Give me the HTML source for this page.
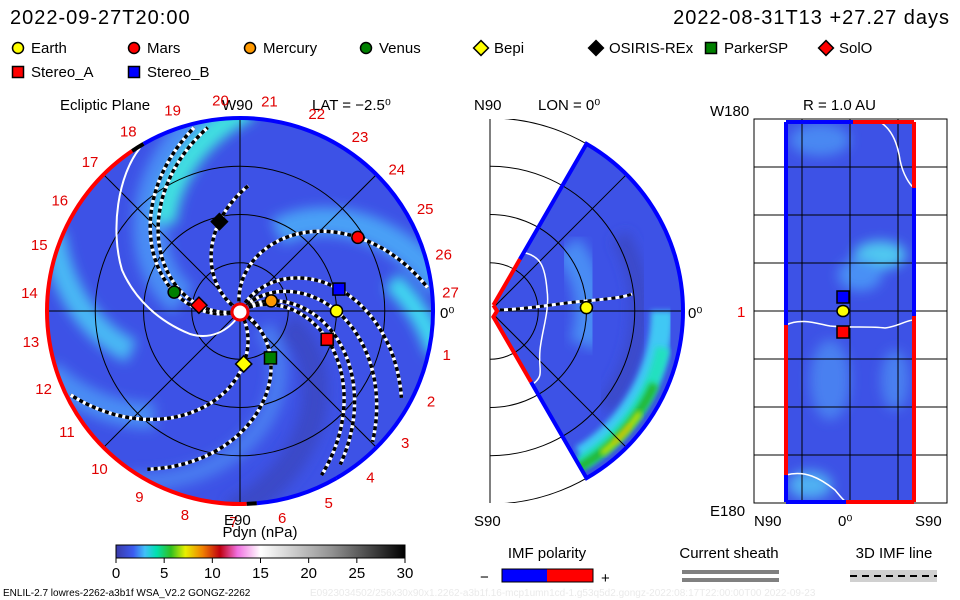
<!DOCTYPE html>
<html><head><meta charset="utf-8"><style>
html,body{margin:0;padding:0;background:#fff;}
svg{display:block;font-family:"Liberation Sans",sans-serif;}
</style></head><body>
<svg id="chart" width="960" height="600" viewBox="0 0 960 600">
<defs>
<linearGradient id="cbar" x1="0" x2="1" y1="0" y2="0">
<stop offset="0" stop-color="#3a3aa8"/><stop offset="0.06" stop-color="#3c5cf0"/>
<stop offset="0.1" stop-color="#40c0f8"/><stop offset="0.14" stop-color="#00e0b0"/>
<stop offset="0.19" stop-color="#30c020"/><stop offset="0.24" stop-color="#e8f000"/>
<stop offset="0.3" stop-color="#f08000"/><stop offset="0.36" stop-color="#c00010"/>
<stop offset="0.42" stop-color="#f070e0"/><stop offset="0.5" stop-color="#ffffff"/>
<stop offset="0.75" stop-color="#909090"/><stop offset="1" stop-color="#000000"/>
</linearGradient>
<clipPath id="clipL"><circle cx="240" cy="311" r="193"/></clipPath>
<clipPath id="clipM"><path id="wedgePath" d=""/></clipPath>
<clipPath id="clipR"><rect x="786" y="122" width="128" height="380"/></clipPath>
<clipPath id="boxM"><rect x="490" y="119" width="200" height="384"/></clipPath>
<filter id="blur"><feGaussianBlur stdDeviation="6"/></filter>
<filter id="blur2"><feGaussianBlur stdDeviation="3"/></filter>
</defs>

<text x="10" y="24" font-size="20" letter-spacing="1">2022-09-27T20:00</text>
<text x="950" y="24" font-size="20" letter-spacing="1" text-anchor="end">2022-08-31T13 +27.27 days</text>
<g id="legend" font-size="15"></g>

<!-- Left panel -->
<g>
<text x="60" y="110" font-size="15">Ecliptic Plane</text>
<text x="222" y="110" font-size="15">W90</text>
<text x="312" y="110" font-size="15">LAT = −2.5⁰</text>
<circle cx="240" cy="311" r="193" fill="#3d52e6"/>
<g clip-path="url(#clipL)" filter="url(#blur)" id="lbands"></g>
<g clip-path="url(#clipL)" id="lgrid" stroke="#000" stroke-width="1" fill="none"></g>
<g id="lsheath"></g>
<g id="lspirals"></g>
<g id="lrim"></g>
<g id="ldays" font-size="15" fill="#e00000"></g>
<circle cx="240" cy="312" r="8" fill="#fff" stroke="#e00" stroke-width="3"/>
<g id="lbodies"></g>
<text x="440" y="318" font-size="15">0⁰</text>
<text x="224" y="525" font-size="15">E90</text>
</g>

<!-- Middle panel -->
<g>
<text x="474" y="110" font-size="15">N90</text>
<text x="538" y="110" font-size="15">LON = 0⁰</text>
<text x="474" y="526" font-size="15">S90</text>
<text x="688" y="318" font-size="15">0⁰</text>
<line x1="490" y1="119" x2="490" y2="503" stroke="#000"/>
<g id="marcs" clip-path="url(#boxM)" fill="none" stroke="#000" stroke-width="1"></g>
<path id="wedge" fill="#3d52e6"/>
<g id="mbands" clip-path="url(#clipM)"></g>
<g id="mgrid" clip-path="url(#clipM)" fill="none" stroke="#000" stroke-width="1"></g>
<path id="msheath" fill="none" stroke="#fff" stroke-width="1.5"/>
<g id="mrim"></g>
<g id="mline"></g>
<circle id="mearth" r="6" fill="#ffff00" stroke="#000" stroke-width="1.5"/>
</g>

<!-- Right panel -->
<g>
<text x="803" y="110" font-size="15">R = 1.0 AU</text>
<text x="710" y="116" font-size="15">W180</text>
<text x="710" y="516" font-size="15">E180</text>
<text x="754" y="526" font-size="15">N90</text>
<text x="838" y="526" font-size="15">0⁰</text>
<text x="915" y="526" font-size="15">S90</text>
<text x="737" y="317" font-size="15" fill="#e00">1</text>
<rect x="754" y="119" width="193" height="384" fill="#fff" stroke="#000"/>
<rect x="786" y="122" width="128" height="380" fill="#3d52e6"/>
<g clip-path="url(#clipR)" filter="url(#blur)">
<ellipse cx="880" cy="255" rx="26" ry="14" fill="#4fc8f0"/>
<ellipse cx="860" cy="275" rx="22" ry="16" fill="#4a90f5"/>
<ellipse cx="820" cy="140" rx="30" ry="16" fill="#4a88f2"/>
<ellipse cx="810" cy="485" rx="22" ry="14" fill="#50b0f2"/>
<ellipse cx="830" cy="380" rx="20" ry="40" fill="#4a80f0"/>
<ellipse cx="895" cy="380" rx="14" ry="30" fill="#4a80f0"/>
</g>
<g id="rgrid" stroke="#000" stroke-width="1"></g>
<path d="M786,325 C800,318 815,323 830,326 C850,328 870,326 885,328 C900,326 906,320 914,320" fill="none" stroke="#fff" stroke-width="1.5"/>
<path d="M880,122 C890,128 897,140 900,160 C903,175 910,185 914,188" fill="none" stroke="#fff" stroke-width="1.5"/>
<path d="M786,475 C805,470 820,478 835,490 C840,496 843,500 846,502" fill="none" stroke="#fff" stroke-width="1.5"/>
<line x1="786" y1="122" x2="786" y2="325" stroke="#0000ff" stroke-width="4"/>
<line x1="786" y1="325" x2="786" y2="475" stroke="#ff0000" stroke-width="4"/>
<line x1="786" y1="475" x2="786" y2="502" stroke="#0000ff" stroke-width="4"/>
<line x1="914" y1="122" x2="914" y2="188" stroke="#ff0000" stroke-width="4"/>
<line x1="914" y1="188" x2="914" y2="316" stroke="#0000ff" stroke-width="4"/>
<line x1="914" y1="316" x2="914" y2="502" stroke="#ff0000" stroke-width="4"/>
<line x1="786" y1="122" x2="853" y2="122" stroke="#0000ff" stroke-width="4"/>
<line x1="853" y1="122" x2="914" y2="122" stroke="#ff0000" stroke-width="4"/>
<line x1="786" y1="502" x2="846" y2="502" stroke="#0000ff" stroke-width="4"/>
<line x1="846" y1="502" x2="914" y2="502" stroke="#ff0000" stroke-width="4"/>
<rect x="837" y="291" width="12" height="12" fill="#0000ff" stroke="#000" stroke-width="1.5"/>
<ellipse cx="843" cy="311" rx="6" ry="5.5" fill="#ffff00" stroke="#000" stroke-width="1.5"/>
<rect x="837" y="326" width="12" height="12" fill="#ff0000" stroke="#000" stroke-width="1.5"/>
</g>

<!-- Colorbar -->
<g>
<text x="260" y="537" font-size="15" text-anchor="middle">Pdyn (nPa)</text>
<rect x="116" y="545" width="289" height="13" fill="url(#cbar)" stroke="#000"/>
<g id="cticks" font-size="15"></g>
</g>

<g>
<text x="547" y="558" font-size="15" text-anchor="middle">IMF polarity</text>
<text x="480" y="582" font-size="15">−</text>
<rect x="502" y="569" width="45" height="13" fill="#0000ff"/>
<rect x="547" y="569" width="46" height="13" fill="#ff0000"/>
<rect x="502" y="569" width="91" height="13" fill="none" stroke="#000"/>
<text x="601" y="583" font-size="15">+</text>
</g>
<g>
<text x="729" y="558" font-size="15" text-anchor="middle">Current sheath</text>
<rect x="682" y="570" width="97" height="4" fill="#808080"/>
<rect x="682" y="578" width="97" height="4" fill="#808080"/>
</g>
<g>
<text x="894" y="558" font-size="15" text-anchor="middle">3D IMF line</text>
<rect x="850" y="570" width="87" height="12" fill="#d0d0d0"/>
<line x1="850" y1="576" x2="937" y2="576" stroke="#000" stroke-width="2" stroke-dasharray="7,5"/>
</g>
<text x="3" y="596" font-size="10">ENLIL-2.7 lowres-2262-a3b1f WSA_V2.2 GONGZ-2262</text>
<text x="310" y="596" font-size="10" fill="#eaeaea">E0923034502/256x30x90x1.2262-a3b1f.16-mcp1umn1cd-1.g53q5d2.gongz-2022:08:17T22:00:00T00    2022-09-23</text>

<script>
const NS='http://www.w3.org/2000/svg';
const bodyNames=['Earth','Mars','Mercury','Venus','Bepi','OSIRIS-REx','ParkerSP','SolO','Stereo_A','Stereo_B'];
const bodyColors=['#ffff00','#ff0000','#ff9900','#008000','#ffff00','#000000','#008000','#ff0000','#ff0000','#0000ff'];
const bodyShapes=['circle','circle','circle','circle','diamond','diamond','square','diamond','square','square'];
const bodyR=[1.0,1.44,0.34,0.71,0.55,0.95,0.58,0.43,0.95,1.05];      // AU
const bodyLon=[0,32,18,164,-86,103,-57,172,-18,12.5];                 // deg
const lineEndR=[1.95,1.97,1.9,1.97,1.98,1.3,1.9,1.95,1.9,1.9];        // AU
const dayLabels=[1,2,3,4,5,6,7,8,9,10,11,12,13,14,15,16,17,18,19,20,21,22,23,24,25,26,27];
const cbTicks=[0,5,10,15,20,25,30];
const CX=240,CY=311,AU=96.5,SPIRAL=48;
function el(t,a,p){const e=document.createElementNS(NS,t);for(const k in a)e.setAttribute(k,a[k]);p.appendChild(e);return e;}
function pol(r,deg){const a=deg*Math.PI/180;return [CX+r*AU*Math.cos(a),CY-r*AU*Math.sin(a)];}
function marker(shape,x,y,s,fill,parent){
  if(shape==='circle')return el('circle',{cx:x,cy:y,r:s,fill:fill,stroke:'#000','stroke-width':1.5},parent);
  if(shape==='square')return el('rect',{x:x-s,y:y-s,width:2*s,height:2*s,fill:fill,stroke:'#000','stroke-width':1.5},parent);
  const d=s*1.35;return el('path',{d:`M${x},${y-d}L${x+d},${y}L${x},${y+d}L${x-d},${y}Z`,fill:fill,stroke:'#000','stroke-width':1.5},parent);
}
const lg=document.getElementById('legend');
const legX=[18,134,250,366,481,596,711,826,18,134],legY=[48,48,48,48,48,48,48,48,72,72];
bodyNames.forEach((n,i)=>{
  const m=marker(bodyShapes[i],legX[i],legY[i],5.5,bodyColors[i],lg);
  
  
  const t=el('text',{x:legX[i]+13,y:legY[i]+5},lg);t.textContent=n;
  
  
});
const lb=document.getElementById('lbands');
function spiralPts(foot,r0,r1){const pts=[];for(let r=r0;r<=r1+1e-6;r+=0.03){pts.push(pol(r,foot-SPIRAL*r));}return pts;}
function ptsD(p){return 'M'+p.map(q=>q[0].toFixed(1)+','+q[1].toFixed(1)).join('L');}
[[150,0.6,2.1,'#4a8cf4',34],[140,1.2,2.1,'#40e0e0',22],[60,0.9,2.1,'#4aa0f6',28],[40,1.6,2.1,'#40d8f0',20],[-150,1.2,2.1,'#48b8f4',24],[-110,1.4,2.1,'#4a8cf4',26],[-40,0.5,2.1,'#3a48c8',26],[-70,0.3,2.1,'#4a7cf0',18]].forEach(b=>{
  const p=el('path',{d:ptsD(spiralPts(b[0]+SPIRAL*1.0,b[1],b[2])),fill:'none',stroke:b[3],'stroke-width':b[4]},lb);
  
  
});
const lgr=document.getElementById('lgrid');
[0.5,1.0,1.5].forEach(r=>{const c=el('circle',{cx:CX,cy:CY,r:r*AU},lgr);});
[0,45,90,135].forEach(a=>{const p1=pol(2.1,a),p2=pol(2.1,a+180);const l=el('line',{x1:p1[0],y1:p1[1],x2:p2[0],y2:p2[1]},lgr);});
const sh=el('path',{d:'M140,148 C118,175 110,230 122,270 C135,300 160,322 190,334 C210,340 228,332 240,314',fill:'none',stroke:'#fff','stroke-width':2},document.getElementById('lsheath'));


const ls=document.getElementById('lspirals');
bodyNames.forEach((n,i)=>{
  const foot=bodyLon[i]+SPIRAL*bodyR[i];
  const d=ptsD(spiralPts(foot,0.1,lineEndR[i]));
  const g=el('g',{},ls);
  
  
  el('path',{d:d,fill:'none',stroke:'#fff','stroke-width':3.5},g);
  el('path',{d:d,fill:'none',stroke:'#000','stroke-width':3.5,'stroke-dasharray':'4,3'},g);
});
const lr=document.getElementById('lrim');
function arc(r,a0,a1){const p0=pol(r,a0),p1=pol(r,a1);const large=Math.abs(a1-a0)>180?1:0;return `M${p0[0]},${p0[1]}A${r*AU},${r*AU} 0 ${large} 0 ${p1[0]},${p1[1]}`;}
[[-60,120,'#0000ff'],[120,124,'#000'],[124,272,'#ff0000'],[272,275,'#000'],[275,300,'#0000ff']].forEach(s=>{
  const p=el('path',{d:arc(2.0,s[0],s[1]),fill:'none',stroke:s[2],'stroke-width':4},lr);
  
  
});
const ld=document.getElementById('ldays');
dayLabels.forEach(n=>{
  const ang=n===27?5:-12-(n-1)*13.3;
  const p=pol(2.19,ang);
  const t=el('text',{x:p[0],y:p[1]+5,'text-anchor':'middle'},ld);t.textContent=n;
  
  
});
const lbd=document.getElementById('lbodies');
bodyNames.forEach((n,i)=>{
  const p=pol(bodyR[i],bodyLon[i]);
  const m=marker(bodyShapes[i],p[0],p[1],6,bodyColors[i],lbd);
  
  
});
const MX=490,MY=311;
function mp(r,deg){const a=deg*Math.PI/180;return [MX+r*AU*Math.cos(a),MY-r*AU*Math.sin(a)];}
const w0=mp(0.07,60),w1=mp(2.0,60),w2=mp(2.0,-60),w3=mp(0.07,-60);
const wd=`M${w0}L${w1}A${2*AU},${2*AU} 0 0 1 ${w2}L${w3}L${MX+7},${MY}Z`;
document.getElementById('wedge').setAttribute('d',wd);
document.getElementById('wedgePath').setAttribute('d',wd);
const ma=document.getElementById('marcs');
[0.5,1,1.5,2].forEach(r=>{const c=el('circle',{cx:MX,cy:MY,r:r*AU},ma);});
const mb=document.getElementById('mbands');
[['#3a48c8',150,18,-40,30,'blur'],['#4a8cf4',100,30,-20,40,'blur'],['#40c8f4',172,22,-58,0,'blur2'],['#20e0c0',177,14,-60,-12,'blur2'],['#20b830',180,9,-62,-24,'blur2'],['#d8e800',181,5,-52,-34,'blur2'],['#f0a000',181,2,-47,-39,'blur2']].forEach(b=>{
  const p0=mp(b[1]/AU,b[3]),p1=mp(b[1]/AU,b[4]);
  const p=el('path',{d:`M${p0}A${b[1]},${b[1]} 0 0 0 ${p1}`,fill:'none',stroke:b[0],'stroke-width':b[2],filter:'url(#'+b[5]+')'},mb);
  
  
});
const mg=document.getElementById('mgrid');
[0.5,1,1.5].forEach(r=>el('circle',{cx:MX,cy:MY,r:r*AU},mg));
[45,0,-45].forEach(a=>{const p=mp(2.1,a);el('line',{x1:MX,y1:MY,x2:p[0],y2:p[1]},mg);});
document.getElementById('msheath').setAttribute('d','M521,252 C540,255 545,265 547,290 C550,310 542,330 540,350 C538,370 545,375 533,384');
const mr=document.getElementById('mrim');
[[`M${w0}L${mp(0.62,60)}`,'#ff0000'],[`M${mp(0.62,60)}L${w1}A${2*AU},${2*AU} 0 0 1 ${w2}L${mp(0.85,-60)}`,'#0000ff'],[`M${mp(0.85,-60)}L${w3}L${MX+7},${MY}L${w0}`,'#ff0000']].forEach(s=>{
  const p=el('path',{d:s[0],fill:'none',stroke:s[1],'stroke-width':4},mr);
  
  
});
const ml=document.getElementById('mline');
const mld='M500,310 C530,309 560,303 586,301 C605,299 622,298 632,294';
el('path',{d:mld,fill:'none',stroke:'#fff','stroke-width':3},ml);
el('path',{d:mld,fill:'none',stroke:'#000','stroke-width':3,'stroke-dasharray':'4,4'},ml);
const me=mp(bodyR[0],2);
document.getElementById('mearth').setAttribute('cx',me[0]);
document.getElementById('mearth').setAttribute('cy',me[1]);
const rg=document.getElementById('rgrid');
[167,215,263,311,359,407,455].forEach(y=>el('line',{x1:754,y1:y,x2:947,y2:y},rg));
[802,850,898].forEach(x=>el('line',{x1:x,y1:119,x2:x,y2:503},rg));
const ct=document.getElementById('cticks');
cbTicks.forEach(v=>{
  const x=116+v/30*289;
  const l=el('line',{x1:x,y1:558,x2:x,y2:563,stroke:'#000'},ct);
  
  
  const t=el('text',{x:x,y:578,'text-anchor':'middle'},ct);t.textContent=v;
  
  
});
</script>
</svg>
</body></html>
